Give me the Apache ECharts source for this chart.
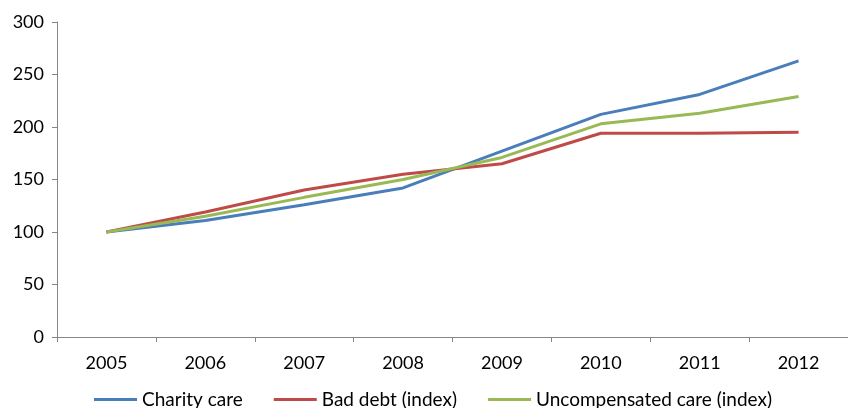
<!DOCTYPE html>
<html>
<head>
<meta charset="utf-8">
<script src="https://cdn.jsdelivr.net/npm/echarts@6/dist/echarts.min.js"></script>
<style>
  html, body { margin: 0; padding: 0; background: #ffffff; }
  #chart { width: 848px; height: 408px; }
</style>
</head>
<body>
<div id="chart"></div>
<script>
// Index values, 2005 = 100
const years = ['2005', '2006', '2007', '2008', '2009', '2010', '2011', '2012'];
const charityCare = [100, 111, 126, 142, 177, 212, 231, 263];
const badDebt = [100, 119, 140, 155, 165, 194, 194, 195];
const uncompensatedCare = [100, 115, 133, 150, 171, 203, 213, 229];
const yTicks = [0, 50, 100, 150, 200, 250, 300];

const seriesNames = ['Charity care', 'Bad debt (index)', 'Uncompensated care (index)'];
const seriesColors = ['#4A7EBB', '#BE4B48', '#98B954'];
const seriesData = [charityCare, badDebt, uncompensatedCare];

const axisGray = '#868686';
const fontFamily = 'Lato, "Noto Sans", sans-serif';

const chart = echarts.init(document.getElementById('chart'), null, { renderer: 'canvas' });
chart.setOption({
  animation: false,
  backgroundColor: '#ffffff',
  textStyle: { fontFamily: fontFamily },
  grid: { left: 57, right: 0, top: 22, bottom: 71, containLabel: false },
  legend: {
    top: 390,
    left: 94,
    padding: 0,
    icon: 'rect',
    itemWidth: 43,
    itemHeight: 3,
    itemGap: 31,
    textStyle: { fontSize: 19, color: '#000000', fontFamily: fontFamily },
    data: seriesNames
  },
  xAxis: {
    type: 'category',
    data: years,
    boundaryGap: true,
    axisLine: { lineStyle: { color: axisGray, width: 1 } },
    axisTick: { show: true, length: 5, lineStyle: { color: axisGray } },
    axisLabel: { fontSize: 18, color: '#000000', margin: 17, fontFamily: fontFamily },
    splitLine: { show: false }
  },
  yAxis: {
    type: 'value',
    min: yTicks[0],
    max: yTicks[yTicks.length - 1],
    interval: yTicks[1] - yTicks[0],
    axisLine: { show: true, lineStyle: { color: axisGray, width: 1 } },
    axisTick: { show: true, length: 5, lineStyle: { color: axisGray } },
    axisLabel: { fontSize: 18, color: '#000000', margin: 13, fontFamily: fontFamily },
    splitLine: { show: false }
  },
  series: seriesNames.map((name, i) => ({
    name: name,
    type: 'line',
    data: seriesData[i],
    symbol: 'none',
    smooth: false,
    color: seriesColors[i],
    lineStyle: { color: seriesColors[i], width: 3 }
  }))
});
</script>
</body>
</html>
